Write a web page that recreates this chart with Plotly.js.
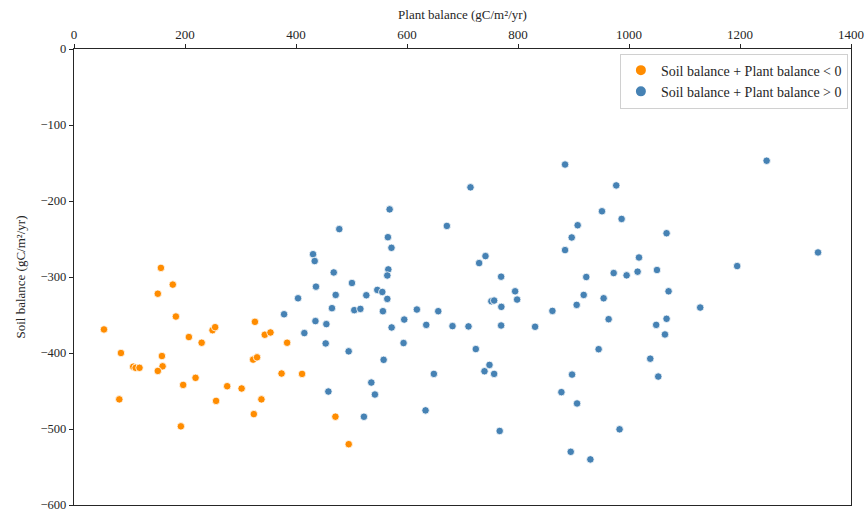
<!DOCTYPE html>
<html>
<head>
<meta charset="utf-8">
<script src="https://cdn.plot.ly/plotly-3.0.1.min.js"></script>
<style>html,body{margin:0;padding:0;background:#fff;}#chart{width:867px;height:513px;}</style>
</head>
<body>
<div id="chart"></div>
<script>
const negX = [156.6,178,151,183.6,54,84.6,106.7,111,118,158.4,159.6,151,81.6,207,230,249.6,254.3,219,196.7,192.6,276,302,256,326,343.7,354,322.7,329.8,337.7,324,384,374,410.9,471,495];
const negY = [-288,-310,-322,-352,-369,-400,-418,-419.5,-419.5,-404,-417.5,-423.6,-461,-379,-386.5,-370,-366,-432.7,-442,-496.5,-443.7,-446.7,-463,-359,-376,-373,-408.7,-405.7,-461,-480.4,-386.5,-427,-427.5,-483.8,-520];

const posX = [568.7,671.8,478,565.6,572,430.7,433.7,566.3,564.5,468,500.8,436,403.7,471.5,546.5,555.5,526.7,564.5,464.8,505,516,556.6,617.8,656.3,378.5,435,454.7,595,572.3,634.7,682,710.8,415,453.5,593.8,494.9,557.9,648.4,535.7,542.2,458.3,633.4,522.4,
  884.8,714.4,977,951.3,986.7,907.5,896.8,884.8,741.4,730,769.6,794.8,798.4,752,757,770,769.6,830.8,862,923,972.4,995.7,1015.5,1018,1050.4,918.4,905.7,954.3,963.3,1049,724,748.6,739.6,757,945.3,1038.3,1052.7,897.4,878.2,906.4,767,983,
  1248,1340.6,1194.9,1067.7,1071.3,1128.3,1067.7,1064.8,895,930.4];
const posY = [-211,-232.8,-237,-247.6,-261.6,-270,-279,-290,-298,-294,-307.9,-312.7,-328,-323.6,-317,-319.7,-324,-328.8,-341,-343.6,-342,-345,-342.8,-345,-349,-358,-362,-356,-366.4,-363,-364.6,-365,-373.8,-387.4,-386.9,-397.8,-409,-427.5,-438.9,-454.6,-450.7,-475.5,-483.9,
  -152,-182,-179.5,-213.5,-223.6,-231.9,-248,-264.6,-272.5,-281.7,-299.6,-318.8,-329.7,-331.9,-331,-339.3,-363.8,-365.5,-344.6,-300,-294.8,-297.8,-293,-274.3,-290.8,-323.6,-336.7,-328,-355.5,-363,-394.8,-415.7,-424,-427.5,-395,-407.5,-431,-428.4,-451.5,-466.4,-502.6,-500.4,
  -147,-267.7,-285.6,-242.4,-318.8,-340.2,-355,-375.6,-530,-540];

const seriesNames = ['Soil balance + Plant balance < 0', 'Soil balance + Plant balance > 0'];
const xTitle = 'Plant balance (gC/m²/yr)';
const yTitle = 'Soil balance (gC/m²/yr)';

const FAM = "Liberation Serif";
const font = {family: FAM, size: 13, color: '#262626'};

const traces = [
  {x: negX, y: negY, mode: 'markers', type: 'scatter', name: seriesNames[0],
   marker: {color: '#ff8c00', size: 7.5, line: {color: '#ffffff', width: 0.8}}},
  {x: posX, y: posY, mode: 'markers', type: 'scatter', name: seriesNames[1],
   marker: {color: '#4682b4', size: 7.5, line: {color: '#ffffff', width: 0.8}}}
];

const layout = {
  width: 867, height: 513,
  margin: {l: 74, r: 16, t: 49, b: 8},
  paper_bgcolor: '#fff', plot_bgcolor: '#fff',
  font: font,
  showlegend: true,
  legend: {x: 0.996, y: 0.99, xanchor: 'right', yanchor: 'top', bgcolor: 'rgba(255,255,255,0.9)',
           bordercolor: '#d0d0d0', borderwidth: 1, itemsizing: 'constant', font: {family: FAM, size: 14, color: '#262626'},
           tracegroupgap: 0},
  xaxis: {
    side: 'top', range: [0, 1400], tick0: 0, dtick: 200, showgrid: false, zeroline: false,
    showline: true, mirror: true, linecolor: '#262626', linewidth: 1.2,
    ticks: 'outside', ticklen: 4, tickcolor: '#262626', tickfont: font, ticklabeloverflow: 'allow',
    title: {text: xTitle, font: font, standoff: 4}
  },
  yaxis: {
    range: [-600, 0], tick0: 0, dtick: 100, showgrid: false, zeroline: false,
    showline: true, mirror: true, linecolor: '#262626', linewidth: 1.2,
    ticks: 'outside', ticklen: 4, tickcolor: '#262626', tickfont: {family: FAM, size: 12.5, color: '#262626'}, ticklabeloverflow: 'allow',
    title: {text: yTitle, font: font, standoff: 12}
  }
};

Plotly.newPlot('chart', traces, layout, {displayModeBar: false, staticPlot: true});
</script>
</body>
</html>
